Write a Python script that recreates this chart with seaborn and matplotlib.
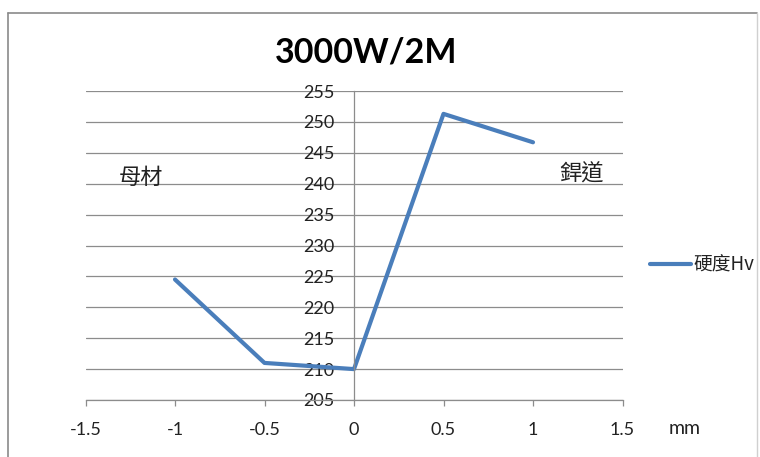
import matplotlib
matplotlib.use("Agg")
import matplotlib.pyplot as plt
import seaborn as sns
import pandas as pd
from matplotlib.lines import Line2D

# Hardness profile across the weld
positions_mm = [-1.0, -0.5, 0.0, 0.5, 1.0]
hardness_hv = [224.5, 211.0, 210.0, 251.3, 246.7]
series_name = "硬度Hv"
chart_title = "3000W/2M"
x_ticks = [-1.5, -1, -0.5, 0, 0.5, 1, 1.5]
x_tick_labels = ["-1.5", "-1", "-0.5", "0", "0.5", "1", "1.5"]
y_ticks = [205, 210, 215, 220, 225, 230, 235, 240, 245, 250, 255]
base_label = "母材"
weld_label = "銲道"
unit_label = "mm"

sns.set_theme(style="white")
plt.rcParams["font.family"] = ["Lato", "Noto Sans CJK TC", "DejaVu Sans"]
cjk = ["Noto Sans CJK TC", "DejaVu Sans"]

line_color = "#4A7EBB"
grid_color = "#8C8C8C"
text_color = "#222222"

df = pd.DataFrame({"pos": positions_mm, "hv": hardness_hv})

fig = plt.figure(figsize=(7.6, 4.57), dpi=100)
ax = fig.add_axes([85.5 / 760, 1 - 400 / 457, 537 / 760, 309 / 457])

sns.lineplot(data=df, x="pos", y="hv", ax=ax, color=line_color,
             linewidth=3.0, legend=False, sort=False)

ax.set_xlim(-1.5, 1.5)
ax.set_ylim(205, 255)
ax.set_xticks(x_ticks)
ax.set_xticklabels(x_tick_labels)
ax.set_yticks(y_ticks)
ax.set_xlabel("")
ax.set_ylabel("")

# horizontal gridlines only
ax.yaxis.grid(True, color=grid_color, linewidth=0.9)
ax.xaxis.grid(False)
ax.set_axisbelow(True)

# y axis crossing at x = 0
for side in ["top", "right"]:
    ax.spines[side].set_visible(False)
ax.spines["left"].set_position(("data", 0))
ax.spines["left"].set_color(grid_color)
ax.spines["left"].set_linewidth(0.9)
ax.spines["bottom"].set_color(grid_color)
ax.spines["bottom"].set_linewidth(0.9)

ax.tick_params(axis="x", direction="out", length=4, width=0.9,
               color=grid_color, pad=12, labelsize=13, labelcolor=text_color)
ax.tick_params(axis="y", length=0, pad=14, labelsize=13, labelcolor=text_color)
ax.tick_params(bottom=True, left=False)

ax.set_title(chart_title, fontsize=24.5, fontweight="bold", color="black",
             pad=0, y=1 + (91 - 53) / 309, va="center", x=(366 - 85.5) / 537)

ax.text(-1.19, 241.0, base_label, fontsize=16, family=cjk,
        color=text_color, ha="center", va="center")
ax.text(1.27, 241.5, weld_label, fontsize=16, family=cjk,
        color=text_color, ha="center", va="center")
fig.text(685 / 760, 1 - 428 / 457, unit_label, fontsize=14,
         color=text_color, ha="center", va="center")

handle = Line2D([0], [0], color=line_color, linewidth=3.0)
leg = fig.legend([handle], [series_name], loc="center left",
                 bbox_to_anchor=(650 / 760, 1 - 265 / 457), frameon=False,
                 borderpad=0, borderaxespad=0, handlelength=2.2,
                 handletextpad=0.12, prop={"family": cjk, "size": 13.5})
for t in leg.get_texts():
    t.set_color(text_color)

# chart outline
border = dict(color="#8A8A8A", linewidth=1.2, transform=fig.transFigure)
fig.add_artist(Line2D([8 / 760, 8 / 760], [0, 1 - 13 / 457], **border))
fig.add_artist(Line2D([8 / 760, 757 / 760], [1 - 13 / 457, 1 - 13 / 457], **border))
fig.add_artist(Line2D([757 / 760, 757 / 760], [0, 1 - 13 / 457],
                      color="#D0D0D0", linewidth=1.0, transform=fig.transFigure))

fig.savefig("out.png", dpi=100, facecolor="white")
